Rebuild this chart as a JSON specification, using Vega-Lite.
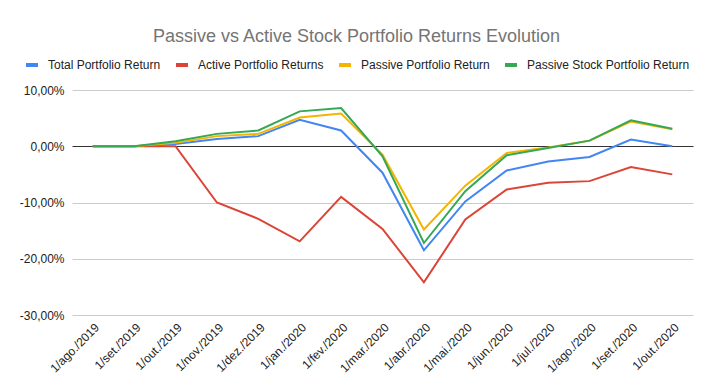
{
  "$schema": "https://vega.github.io/schema/vega-lite/v6.json",
  "width": 621,
  "height": 225,
  "autosize": {"type": "none"},
  "padding": {"left": 72, "top": 90, "right": 9, "bottom": 63},
  "background": "white",
  "title": {
    "text": "Passive vs Active Stock Portfolio Returns Evolution",
    "anchor": "middle",
    "frame": "group",
    "dx": -26,
    "offset": 11,
    "fontSize": 18,
    "font": "Liberation Sans",
    "fontWeight": "normal",
    "color": "#757575"
  },
  "config": {
    "view": {"stroke": null},
    "font": "Liberation Sans"
  },
  "datasets": {
    "rows": [
      {"date": "1/ago./2019", "series": "Total Portfolio Return", "value": 0},
      {"date": "1/set./2019", "series": "Total Portfolio Return", "value": 0},
      {"date": "1/out./2019", "series": "Total Portfolio Return", "value": 0.004},
      {"date": "1/nov./2019", "series": "Total Portfolio Return", "value": 0.013},
      {"date": "1/dez./2019", "series": "Total Portfolio Return", "value": 0.018},
      {"date": "1/jan./2020", "series": "Total Portfolio Return", "value": 0.047},
      {"date": "1/fev./2020", "series": "Total Portfolio Return", "value": 0.028},
      {"date": "1/mar./2020", "series": "Total Portfolio Return", "value": -0.047},
      {"date": "1/abr./2020", "series": "Total Portfolio Return", "value": -0.185},
      {"date": "1/mai./2020", "series": "Total Portfolio Return", "value": -0.098},
      {"date": "1/jun./2020", "series": "Total Portfolio Return", "value": -0.043},
      {"date": "1/jul./2020", "series": "Total Portfolio Return", "value": -0.027},
      {"date": "1/ago./2020", "series": "Total Portfolio Return", "value": -0.019},
      {"date": "1/set./2020", "series": "Total Portfolio Return", "value": 0.012},
      {"date": "1/out./2020", "series": "Total Portfolio Return", "value": 0.0},
      {"date": "1/ago./2019", "series": "Active Portfolio Returns", "value": 0},
      {"date": "1/set./2019", "series": "Active Portfolio Returns", "value": 0},
      {"date": "1/out./2019", "series": "Active Portfolio Returns", "value": 0},
      {"date": "1/nov./2019", "series": "Active Portfolio Returns", "value": -0.100},
      {"date": "1/dez./2019", "series": "Active Portfolio Returns", "value": -0.129},
      {"date": "1/jan./2020", "series": "Active Portfolio Returns", "value": -0.169},
      {"date": "1/fev./2020", "series": "Active Portfolio Returns", "value": -0.090},
      {"date": "1/mar./2020", "series": "Active Portfolio Returns", "value": -0.147},
      {"date": "1/abr./2020", "series": "Active Portfolio Returns", "value": -0.242},
      {"date": "1/mai./2020", "series": "Active Portfolio Returns", "value": -0.130},
      {"date": "1/jun./2020", "series": "Active Portfolio Returns", "value": -0.077},
      {"date": "1/jul./2020", "series": "Active Portfolio Returns", "value": -0.065},
      {"date": "1/ago./2020", "series": "Active Portfolio Returns", "value": -0.062},
      {"date": "1/set./2020", "series": "Active Portfolio Returns", "value": -0.037},
      {"date": "1/out./2020", "series": "Active Portfolio Returns", "value": -0.050},
      {"date": "1/ago./2019", "series": "Passive Portfolio Return", "value": 0},
      {"date": "1/set./2019", "series": "Passive Portfolio Return", "value": 0},
      {"date": "1/out./2019", "series": "Passive Portfolio Return", "value": 0.006},
      {"date": "1/nov./2019", "series": "Passive Portfolio Return", "value": 0.018},
      {"date": "1/dez./2019", "series": "Passive Portfolio Return", "value": 0.022},
      {"date": "1/jan./2020", "series": "Passive Portfolio Return", "value": 0.051},
      {"date": "1/fev./2020", "series": "Passive Portfolio Return", "value": 0.058},
      {"date": "1/mar./2020", "series": "Passive Portfolio Return", "value": -0.015},
      {"date": "1/abr./2020", "series": "Passive Portfolio Return", "value": -0.148},
      {"date": "1/mai./2020", "series": "Passive Portfolio Return", "value": -0.070},
      {"date": "1/jun./2020", "series": "Passive Portfolio Return", "value": -0.012},
      {"date": "1/jul./2020", "series": "Passive Portfolio Return", "value": -0.002},
      {"date": "1/ago./2020", "series": "Passive Portfolio Return", "value": 0.010},
      {"date": "1/set./2020", "series": "Passive Portfolio Return", "value": 0.044},
      {"date": "1/out./2020", "series": "Passive Portfolio Return", "value": 0.030},
      {"date": "1/ago./2019", "series": "Passive Stock Portfolio Return", "value": 0},
      {"date": "1/set./2019", "series": "Passive Stock Portfolio Return", "value": 0},
      {"date": "1/out./2019", "series": "Passive Stock Portfolio Return", "value": 0.009},
      {"date": "1/nov./2019", "series": "Passive Stock Portfolio Return", "value": 0.022},
      {"date": "1/dez./2019", "series": "Passive Stock Portfolio Return", "value": 0.028},
      {"date": "1/jan./2020", "series": "Passive Stock Portfolio Return", "value": 0.062},
      {"date": "1/fev./2020", "series": "Passive Stock Portfolio Return", "value": 0.068},
      {"date": "1/mar./2020", "series": "Passive Stock Portfolio Return", "value": -0.018},
      {"date": "1/abr./2020", "series": "Passive Stock Portfolio Return", "value": -0.172},
      {"date": "1/mai./2020", "series": "Passive Stock Portfolio Return", "value": -0.080},
      {"date": "1/jun./2020", "series": "Passive Stock Portfolio Return", "value": -0.016},
      {"date": "1/jul./2020", "series": "Passive Stock Portfolio Return", "value": -0.003},
      {"date": "1/ago./2020", "series": "Passive Stock Portfolio Return", "value": 0.010},
      {"date": "1/set./2020", "series": "Passive Stock Portfolio Return", "value": 0.046},
      {"date": "1/out./2020", "series": "Passive Stock Portfolio Return", "value": 0.031}
    ]
  },
  "data": {"name": "rows"},
  "mark": {"type": "line", "strokeWidth": 2},
  "encoding": {
    "x": {
      "field": "date",
      "type": "ordinal",
      "sort": null,
      "scale": {"type": "point", "padding": 0.5},
      "axis": {
        "title": null,
        "domain": false,
        "ticks": false,
        "grid": false,
        "labelAngle": -45,
        "labelAlign": "right",
        "labelBaseline": "middle",
        "labelPadding": 10,
        "labelOffset": 4,
        "labelFontSize": 12,
        "labelColor": "#222222",
        "labelFont": "Liberation Sans"
      }
    },
    "y": {
      "field": "value",
      "type": "quantitative",
      "scale": {"domain": [-0.3, 0.1], "nice": false, "zero": false},
      "axis": {
        "title": null,
        "domain": false,
        "ticks": false,
        "values": [-0.3, -0.2, -0.1, 0, 0.1],
        "labelExpr": "replace(replace(format(datum.value, '.2%'), '.', ','), '\u2212', '-')",
        "labelFontSize": 12,
        "labelColor": "#222222",
        "labelPadding": 8,
        "labelFont": "Liberation Sans",
        "gridColor": {"condition": {"test": "datum.value === 0", "value": "#333333"}, "value": "#cccccc"},
        "gridWidth": 1
      }
    },
    "color": {
      "field": "series",
      "type": "nominal",
      "sort": null,
      "scale": {
        "domain": ["Total Portfolio Return", "Active Portfolio Returns", "Passive Portfolio Return", "Passive Stock Portfolio Return"],
        "range": ["#4285F4", "#DB4437", "#F4B400", "#34A853"]
      },
      "legend": {
        "title": null,
        "orient": "none",
        "direction": "horizontal",
        "gridAlign": "none",
        "legendX": -48,
        "legendY": -33,
        "symbolType": "stroke",
        "symbolSize": 144,
        "symbolStrokeWidth": 4,
        "labelFontSize": 12,
        "labelColor": "#222222",
        "labelFont": "Liberation Sans",
        "labelOffset": 8,
        "labelLimit": 300,
        "columnPadding": 7
      }
    }
  }
}
